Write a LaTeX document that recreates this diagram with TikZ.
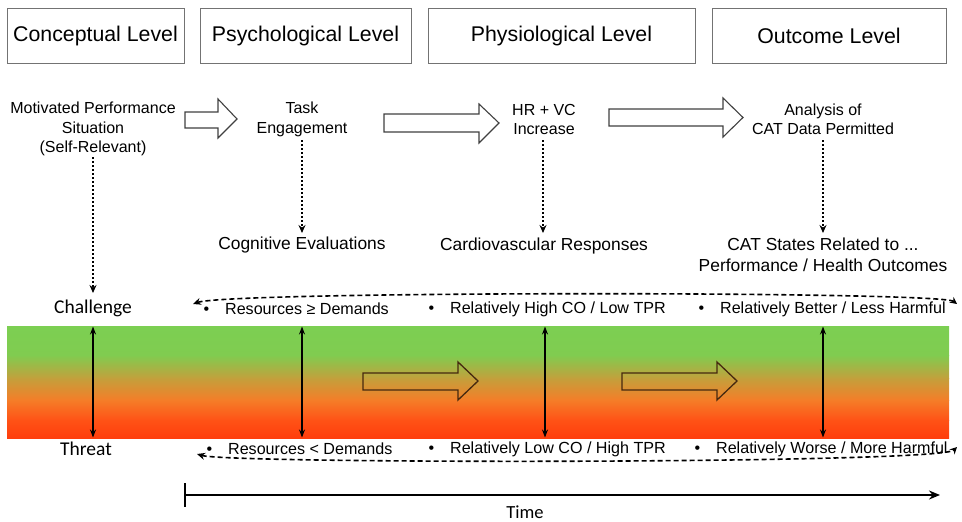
\documentclass[tikz,border=0pt]{standalone}
\usepackage{fontspec}
\setmainfont{Liberation Sans}
\newfontfamily\calibrifont{Carlito}
\usetikzlibrary{arrows.meta}
\definecolor{gA}{RGB}{124,207,82}
\definecolor{gB}{RGB}{128,204,80}
\definecolor{gC}{RGB}{195,160,60}
\definecolor{gD}{RGB}{245,125,40}
\definecolor{gE}{RGB}{255,82,22}
\definecolor{gF}{RGB}{255,62,12}
\definecolor{hollowline}{RGB}{70,40,15}
\tikzset{
  levelbox/.style={draw=black!55, line width=1pt, minimum height=55pt, font=\fontsize{21.3}{24}\selectfont},
  toptext/.style={align=center, font=\fontsize{16}{19.5}\selectfont},
  lowtext/.style={align=center, font=\fontsize{17.4}{20.5}\selectfont},
  bullettext/.style={anchor=west, font=\fontsize{16.1}{19}\selectfont},
  caltext/.style={font=\calibrifont\fontsize{19.5}{22}\selectfont},
  dotarrow/.style={line width=2pt, dash pattern=on 2pt off 2pt, -{Stealth[length=8pt,width=7pt]}},
  bothway/.style={line width=2pt, {Stealth[length=8pt,width=6pt]}-{Stealth[length=8pt,width=6pt]}},
  dashcurve/.style={line width=1.6pt, dash pattern=on 5pt off 3pt, {Stealth[length=8pt,width=7pt]}-{Stealth[length=7pt,width=7pt]}},
  hollow/.style={draw=black!75, line width=1.1pt, fill=white},
  hollowband/.style={draw=hollowline, line width=1.3pt},
}
\begin{document}
\begin{tikzpicture}[x=1pt,y=-1pt]
\useasboundingbox (0,0) rectangle (962,522);
% header boxes
\node[levelbox, minimum width=177pt] (b1) at (95.5,35.5) {Conceptual Level};
\node[levelbox, minimum width=211pt] (b2) at (305.5,35.5) {Psychological Level};
\node[levelbox, minimum width=267pt] (b3) at (561.5,35.5) {Physiological Level};
\node[levelbox, minimum width=234pt] (b4) at (829,35.5) {Outcome Level};
% top row texts
\node[toptext] (mps) at (93,129) {Motivated Performance\\Situation\\(Self-Relevant)};
\node[toptext] (task) at (302,119.5) {Task\\Engagement};
\node[toptext] (hr) at (544,119.5) {HR + VC\\Increase};
\node[toptext] (cat) at (823,119.5) {Analysis of\\CAT Data Permitted};
% hollow arrows (top)
\draw[hollow] (185,112) -- (218,112) -- (218,99) -- (237,119) -- (218,138) -- (218,128) -- (185,128) -- cycle;
\draw[hollow] (384,114) -- (479,114) -- (479,104) -- (499,123) -- (479,143) -- (479,132) -- (384,132) -- cycle;
\draw[hollow] (609,109) -- (723,109) -- (723,98) -- (743,117.5) -- (723,137) -- (723,126) -- (609,126) -- cycle;
% lower texts
\node[lowtext] (cog) at (302,245) {Cognitive Evaluations};
\node[lowtext] (cardio) at (544,246) {Cardiovascular Responses};
\node[lowtext] (states) at (823,255) {CAT States Related to ...\\Performance / Health Outcomes};
\node[caltext] (chal) at (93,308) {Challenge};
\node[caltext] (thr) at (86,449) {Threat};
% dotted arrows
\coordinate (d1s) at (93,157); \coordinate (d1e) at (93,293);
\coordinate (d2s) at (302,140); \coordinate (d2e) at (302,233);
\coordinate (d3s) at (543,140); \coordinate (d3e) at (543,233);
\coordinate (d4s) at (823,140); \coordinate (d4e) at (823,233);
\draw[dotarrow] (d1s) -- (d1e);
\draw[dotarrow] (d2s) -- (d2e);
\draw[dotarrow] (d3s) -- (d3e);
\draw[dotarrow] (d4s) -- (d4e);
% gradient band
\shade[top color=gA, bottom color=gB] (7,326) rectangle (949,355.5);
\shade[top color=gB, bottom color=gC] (7,355) rectangle (949,378.5);
\shade[top color=gC, bottom color=gD] (7,378) rectangle (949,400.5);
\shade[top color=gD, bottom color=gE] (7,400) rectangle (949,420.5);
\shade[top color=gE, bottom color=gF] (7,420) rectangle (949,438);
% hollow arrows in band
\draw[hollowband] (363,373) -- (458,373) -- (458,362) -- (478,381) -- (458,400) -- (458,390) -- (363,390) -- cycle;
\draw[hollowband] (622,373) -- (717,373) -- (717,362) -- (737,381) -- (717,400) -- (717,390) -- (622,390) -- cycle;
% vertical double arrows
\foreach \n/\x in {v1/93, v2/302, v3/545, v4/823}{
  \coordinate (\n t) at (\x,326.5);
  \coordinate (\n b) at (\x,437.5);
  \draw[bothway] (\n t) -- (\n b);
}
% bullet rows
\node[bullettext] (t1) at (200,309) {\textbullet\hspace{16pt}Resources ≥ Demands};
\node[bullettext] (t2) at (425,309) {\textbullet\hspace{16pt}Relatively High CO / Low TPR};
\node[bullettext] (t3) at (695,309) {\textbullet\hspace{16pt}Relatively Better / Less Harmful};
\node[bullettext] (u1) at (203,449) {\textbullet\hspace{16pt}Resources < Demands};
\node[bullettext] (u2) at (425,449) {\textbullet\hspace{16pt}Relatively Low CO / High TPR};
\node[bullettext] (u3) at (691,449) {\textbullet\hspace{16pt}Relatively Worse / More Harmful};
% dashed curves
\coordinate (ctr) at (957,304); \coordinate (ctl) at (193,304);
\coordinate (cbr) at (957,447); \coordinate (cbl) at (197,454);
\draw[dashcurve] (ctl) .. controls (230,291) and (940,291) .. (ctr);
\draw[dashcurve] (cbl) .. controls (230,464) and (940,464) .. (cbr);
% time axis
\coordinate (ts) at (185,495); \coordinate (te) at (940,495);
\coordinate (tk1) at (185,483); \coordinate (tk2) at (185,507);
\draw[line width=2.2pt, -{Stealth[length=11pt,width=9pt]}] (ts) -- (te);
\draw[line width=2.2pt] (tk1) -- (tk2);
\node[caltext, font=\calibrifont\fontsize{18.5}{22}\selectfont, anchor=base, inner sep=0pt] (time) at (525,518.5) {Time};
\end{tikzpicture}
\end{document}
